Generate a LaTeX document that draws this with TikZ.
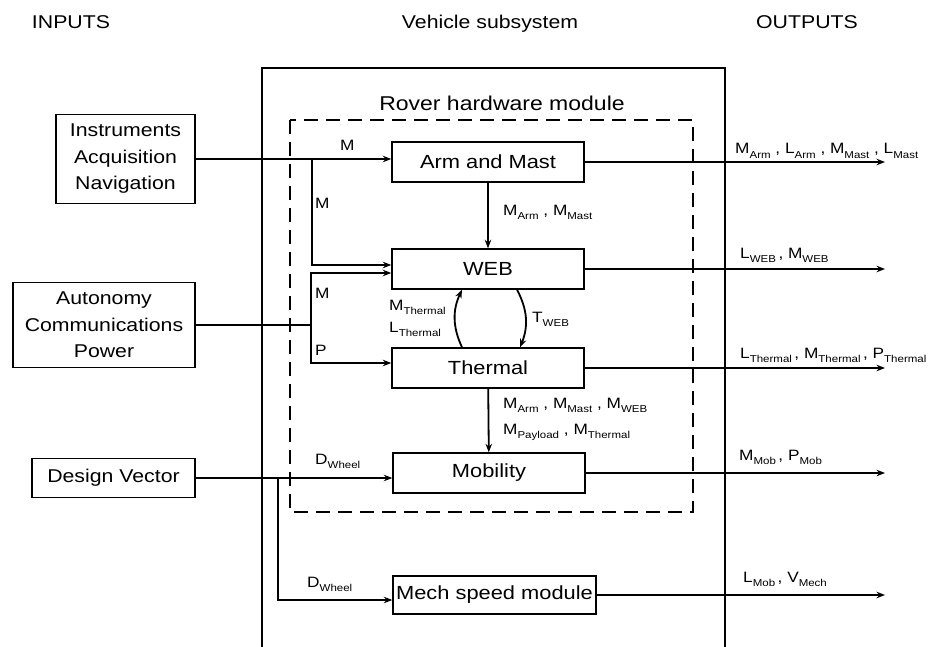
\documentclass[tikz,border=0pt]{standalone}
\usepackage{fontspec}
\setmainfont{Liberation Sans}[FakeStretch=1.15]
\usetikzlibrary{positioning,calc,arrows.meta}

\newcommand{\symsub}[2]{#1\raisebox{-4.5pt}{\fontsize{10}{10}\selectfont #2}}

\begin{document}
\begin{tikzpicture}[x=1pt,y=-1pt,>={Stealth[length=8.5pt,width=6.5pt]},
  block/.style={draw,line width=1.4pt,minimum width=192pt,minimum height=40pt,
    inner sep=0pt,font=\fontsize{19}{22}\selectfont},
  inbox/.style={draw,line width=1.4pt,inner sep=0pt,align=center,
    font=\fontsize{18.5}{26.5}\selectfont},
  head/.style={anchor=base,font=\fontsize{18.5}{20}\selectfont},
  lbl/.style={anchor=base west,inner sep=0pt,font=\fontsize{15}{16}\selectfont},
  flow/.style={->,line width=1.8pt}]
  \useasboundingbox (0,0) rectangle (936,647);

  % headings
  \node[head] (hin) at (71,29) {INPUTS};
  \node[head] (hveh) at (490,29) {Vehicle subsystem};
  \node[head] (hout) at (807,29) {OUTPUTS};

  % vehicle subsystem and rover module frames
  \draw[line width=1.3pt] (262,647) -- (262,68) -- (725,68) -- (725,647);
  \draw[line width=1.3pt,dash pattern=on 14pt off 8pt] (290,120) rectangle (693,512);
  \node[anchor=base,font=\fontsize{20}{22}\selectfont] (rover) at (502,111) {Rover hardware module};

  % modules
  \node[block] (arm) at (488,162) {Arm and Mast};
  \node[block] (web) at (488,269) {WEB};
  \node[block] (therm) at (488,368) {Thermal};
  \node[block] (mob) at (489,473) {Mobility};
  \node[block,minimum width=203pt,minimum height=38pt] (mech) at (494.5,595) {Mech speed module};

  % inputs
  \node[inbox,minimum width=139pt,minimum height=89pt] (instr) at (125.5,159)
    {Instruments\\Acquisition\\Navigation};
  \node[inbox,minimum width=182pt,minimum height=85pt] (auto) at (104,325)
    {Autonomy\\Communications\\Power};
  \node[inbox,minimum width=163pt,minimum height=39pt] (dvec) at (113.5,478) {Design Vector};

  \coordinate (jm) at (312,159);
  \coordinate (ja) at (311,325);
  \coordinate (jd) at (278,478);
  \coordinate (outx) at (885,0);

  % input flows
  \draw[flow] (instr.east) -- (instr.east -| arm.west);
  \draw[flow] (jm) |- ($(web.west)+(0,-4)$);
  \draw[line width=1.8pt] (auto.east) -- (ja);
  \draw[flow] (ja) |- ($(web.west)+(0,4)$);
  \draw[flow] (ja) |- ($(therm.west)+(0,-5)$);
  \draw[flow] (dvec.east) -- (dvec.east -| mob.west);
  \draw[flow] (jd) |- ($(mech.west)+(0,5)$);

  % internal flows
  \draw[flow] (arm) -- (web);
  \draw[flow] (therm) -- (mob);
  \draw[flow] ($(therm.north)+(-26,0)$) to[bend left=25] ($(web.south)+(-26,0)$);
  \draw[flow] ($(web.south)+(29,0)$) to[bend left=25] ($(therm.north)+(32,0)$);

  % outputs
  \foreach \b in {arm,web,therm,mob,mech}
    \draw[flow] (\b.east) -- (\b.east -| outx);

  % labels
  \node[lbl] (lm1) at (340,151) {M};
  \node[lbl] (lm2) at (315,208) {M};
  \node[lbl] (lm3) at (315,298) {M};
  \node[lbl] (lp) at (315,355) {P};
  \node[lbl] (lam) at (503,215) {\symsub{M}{Arm} , \symsub{M}{Mast}};
  \node[lbl] (lmt) at (389,310) {\symsub{M}{Thermal}};
  \node[lbl] (llt) at (389,332) {\symsub{L}{Thermal}};
  \node[lbl] (ltw) at (532,322) {\symsub{T}{WEB}};
  \node[lbl] (ltm1) at (503,408) {\symsub{M}{Arm} , \symsub{M}{Mast} , \symsub{M}{WEB}};
  \node[lbl] (ltm2) at (503,434) {\symsub{M}{Payload} , \symsub{M}{Thermal}};
  \node[lbl] (ldw1) at (315,464) {\symsub{D}{Wheel}};
  \node[lbl] (ldw2) at (307,587) {\symsub{D}{Wheel}};
  \node[lbl] (oarm) at (735,154) {\symsub{M}{Arm} , \symsub{L}{Arm} , \symsub{M}{Mast} , \symsub{L}{Mast}};
  \node[lbl] (oweb) at (740,258) {\symsub{L}{WEB}\,, \symsub{M}{WEB}};
  \node[lbl] (otherm) at (740,358) {\symsub{L}{Thermal}\,, \symsub{M}{Thermal}\,, \symsub{P}{Thermal}};
  \node[lbl] (omob) at (739,460) {\symsub{M}{Mob}\,, \symsub{P}{Mob}};
  \node[lbl] (omech) at (743,582) {\symsub{L}{Mob}\,, \symsub{V}{Mech}};
\end{tikzpicture}
\end{document}
